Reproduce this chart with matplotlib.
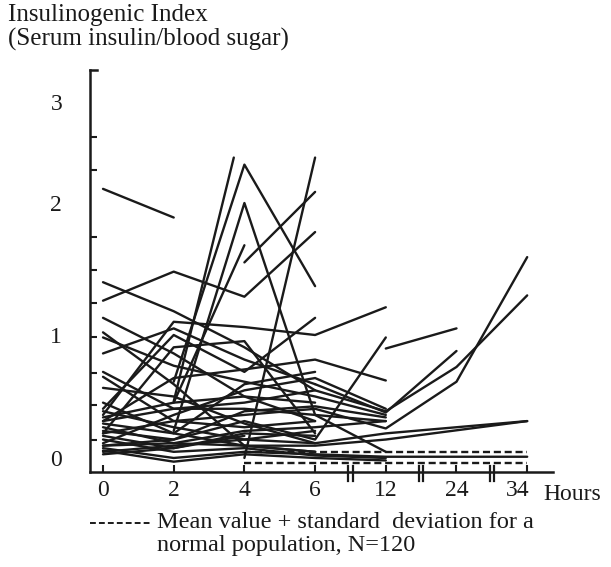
import numpy as np
import matplotlib
matplotlib.use("Agg")
import matplotlib.pyplot as plt
from matplotlib.scale import FuncScale
from matplotlib.lines import Line2D
import matplotlib.transforms as mtransforms

plt.rcParams['font.family'] = ['Liberation Serif', 'DejaVu Serif']

# sampling times (hours) shown on the x axis
time_labels = ['0', '2', '4', '6', '12', '24', '34']
time_hours = [0, 2, 4, 6, 12, 24, 34]

# insulinogenic index per patient: (hours, values)
patients = [
    ([0, 2], [2.14, 1.89]),
    ([0, 2, 4, 6], [1.26, 1.48, 1.29, 1.78]),
    ([0, 2, 4, 6], [1.40, 1.18, 0.90, 0.55]),
    ([2, 3.7], [0.46, 2.45]),
    ([2, 4, 6], [0.62, 2.38, 1.37]),
    ([2, 4, 6, 12], [0.22, 2.00, 0.35, 0.05]),
    ([4, 6], [0.00, 2.45]),
    ([4, 6], [1.55, 2.11]),
    ([2, 4], [0.45, 1.68]),
    ([0, 2, 4, 6, 12], [0.35, 1.10, 1.06, 1.00, 1.21]),
    ([0, 2, 4, 6], [1.13, 0.85, 0.50, 0.30]),
    ([0, 2, 4, 6], [1.02, 0.60, 0.10, 0.05]),
    ([0, 2, 4, 6, 12], [0.98, 0.75, 0.62, 0.50, 0.35]),
    ([0, 2, 4, 6], [0.20, 0.90, 0.95, 0.20]),
    ([0, 2, 4, 6, 12], [0.30, 0.65, 0.72, 0.80, 0.63]),
    ([0, 2, 4, 6, 12, 24, 34], [0.70, 0.40, 0.45, 0.55, 0.38, 0.74, 1.30]),
    ([0, 2, 4, 6, 12, 24, 34], [0.66, 0.30, 0.35, 0.40, 0.24, 0.62, 1.59]),
    ([0, 2, 4, 6, 12], [0.10, 0.15, 0.30, 0.15, 0.98]),
    ([12, 24], [0.89, 1.05]),
    ([6, 12, 24], [0.60, 0.37, 0.87]),
    ([0, 2, 4, 6, 12, 24, 34], [0.57, 0.50, 0.28, 0.12, 0.20, 0.25, 0.30]),
    ([0, 2, 4, 6, 12, 34], [0.45, 0.20, 0.10, 0.10, 0.15, 0.30]),
    ([0, 2, 4, 6], [0.40, 1.00, 0.70, 1.13]),
    ([0, 2, 4, 6], [0.85, 1.05, 0.80, 0.60]),
    ([0, 2, 4, 6, 12], [0.30, 0.40, 0.40, 0.35, 0.30]),
    ([0, 2, 4, 6], [0.25, 0.12, 0.10, 0.05]),
    ([0, 2, 4, 6], [0.20, 0.30, 0.25, 0.30]),
    ([0, 2, 4, 6, 12], [0.15, 0.05, 0.08, 0.02, 0.00]),
    ([0, 2, 4, 6, 12], [0.10, 0.12, 0.22, 0.25, 0.30]),
    ([0, 2, 4, 6, 12, 24, 34], [0.08, 0.00, 0.05, 0.03, 0.01, 0.01, 0.01]),
    ([0, 2, 4, 6], [0.05, 0.10, 0.15, 0.12]),
    ([0, 2, 4, 6], [0.33, 0.45, 0.50, 0.45]),
    ([0, 2, 4, 6], [0.28, 0.20, 0.60, 0.70]),
    ([0, 2, 4, 6, 12], [0.12, 0.35, 0.55, 0.65, 0.40]),
    ([0, 2, 4], [0.03, 0.08, 0.18]),
    ([0, 2, 4, 6, 12], [0.06, -0.03, 0.03, 0.00, -0.02]),
    ([0, 2, 4, 6], [0.18, 0.08, 0.20, 0.18]),
    ([0, 2, 4, 6], [0.38, 0.25, 0.15, 0.22]),
    ([0, 2, 4, 6, 12], [0.22, 0.15, 0.38, 0.42, 0.33]),
]

# normal population reference (mean and mean + SD)
ref_hours = [4, 34]
ref_mean = [-0.04, -0.04]
ref_upper = [0.05, 0.05]

# y axis as drawn: uneven spacing between the labelled values
y_anchor_val = [-10.0, 0.0, 1.0, 2.0, 3.0, 100.0]
y_anchor_pos = [-1230.0, 0.0, 123.0, 255.0, 356.0, 356.0 + 97 * 101.0]


def y_fwd(v):
    return np.interp(v, y_anchor_val, y_anchor_pos)


def y_inv(p):
    return np.interp(p, y_anchor_pos, y_anchor_val)


def to_slot(h):
    return np.interp(h, time_hours, np.arange(len(time_hours)))


W, H = 611, 567
fig = plt.figure(figsize=(W / 100, H / 100), dpi=100)
ax = fig.add_axes([90 / W, 1 - 472 / H, 463 / W, 402 / H])
ax.set_yscale(FuncScale(ax, (y_fwd, y_inv)))

ink = '#1a1a1a'
for hrs, vals in patients:
    ax.plot(to_slot(hrs), vals, color=ink, lw=1.7, solid_capstyle='round',
            solid_joinstyle='round')

for ref in (ref_mean, ref_upper):
    ax.plot(to_slot(ref_hours), ref, color=ink, lw=1.7, ls=(0, (3.0, 1.6)))

ax.set_xlim(-0.184, 6.365)
ax.set_ylim(-0.114, 3.317)

for s in ('top', 'right'):
    ax.spines[s].set_visible(False)
for s in ('left', 'bottom'):
    ax.spines[s].set_linewidth(1.8)
    ax.spines[s].set_color(ink)

# x tick marks; the last label sits a little left of its tick, next to "Hours"
btr = mtransforms.blended_transform_factory(ax.transData, ax.transAxes)
ax.set_xticks(np.arange(len(time_labels)))
ax.set_xticklabels(time_labels[:-1] + [''], fontsize=17)
ax.tick_params(axis='x', direction='in', length=5, width=1.5, pad=6, colors=ink)
ax.text(len(time_labels) - 1.13, -0.021, time_labels[-1], fontsize=17,
        ha='center', va='top', color=ink, transform=btr)

ax.set_yticks([0, 1, 2, 3])
ax.set_yticklabels(['0', '1', '2', '3'], fontsize=17)
ax.set_yticks([0.15, 0.43, 0.69, 0.98, 1.24, 1.49, 1.74, 2.0, 2.33, 2.65, 3.0],
              minor=True)
ax.tick_params(axis='y', which='major', length=0, pad=20, colors=ink)
ax.tick_params(axis='y', which='minor', direction='in', length=5, width=1.5,
               colors=ink)

# axis breaks between the uneven time blocks
for xb in (3.5, 4.5, 5.5):
    for dx in (-0.03, 0.03):
        ax.add_line(Line2D([xb + dx, xb + dx], [-0.022, 0.016], transform=btr,
                           color=ink, lw=1.6, clip_on=False))

# short cap at the top of the y axis
ax.add_line(Line2D([0, 0.016], [1, 1], transform=ax.transAxes, color=ink,
                   lw=1.8, clip_on=False))

fig.text(8 / W, 1 - 15 / H, 'Insulinogenic Index', fontsize=18, va='center',
         color=ink)
fig.text(8 / W, 1 - 39 / H, '(Serum insulin/blood sugar)', fontsize=18,
         va='center', color=ink)
fig.text(543 / W, 1 - 494 / H, 'Hours', fontsize=17, va='center', color=ink)

fig.add_artist(Line2D([90 / W, 150 / W], [1 - 523 / H, 1 - 523 / H], color=ink,
                      lw=1.4, ls=(0, (3.0, 1.6))))
fig.text(157 / W, 1 - 522 / H, 'Mean value + standard  deviation for a',
         fontsize=17.5, va='center', color=ink)
fig.text(157 / W, 1 - 545 / H, 'normal population, N=120', fontsize=17.5,
         va='center', color=ink)

fig.savefig('out.png', dpi=100, facecolor='white')
